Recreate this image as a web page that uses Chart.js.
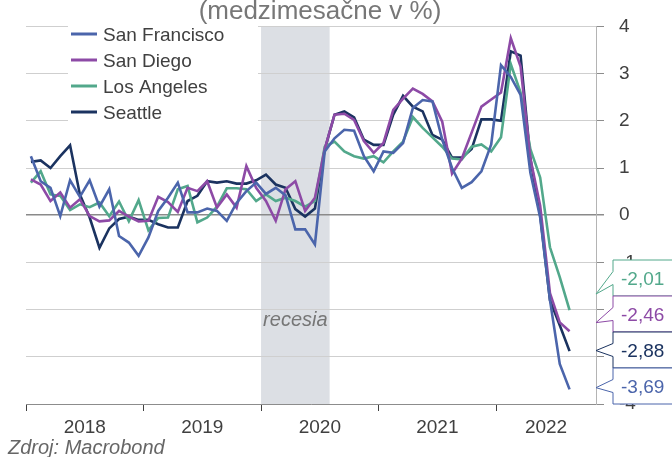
<!DOCTYPE html>
<html>
<head>
<meta charset="utf-8">
<script src="https://cdn.jsdelivr.net/npm/chart.js@4.4.1/dist/chart.umd.min.js"></script>
<style>
  html, body { margin: 0; padding: 0; background: #fff; }
  #wrap { width: 672px; height: 457px; }
</style>
</head>
<body>
<div id="wrap"><canvas id="chart" width="672" height="457"></canvas></div>
<script>
// monthly data, Jan 2018 .. Aug 2022
const firstMonth = '2018-01';
const years = [2018, 2019, 2020, 2021, 2022];
const yTicks = [4, 3, 2, 1, 0, -1, -2, -3, -4];
const recession = ['2020-01', '2020-08'];

const sanFrancisco = [1.25, 0.72, 0.58, -0.02, 0.74, 0.39, 0.74, 0.18, 0.55, -0.44, -0.58, -0.86,
  -0.47, 0.09, 0.37, 0.69, 0.06, 0.06, 0.14, 0.09, -0.12, 0.26, 0.51, 0.69,
  0.45, 0.58, 0.42, -0.30, -0.30, -0.62, 1.35, 1.63, 1.81, 1.79, 1.25, 0.93,
  1.35, 1.32, 1.53, 2.27, 2.44, 2.41, 1.60, 1.00, 0.58, 0.70, 0.93, 1.50,
  3.18, 2.93, 2.55, 0.90, -0.05, -1.80, -3.15, -3.69];
const sanDiego = [0.76, 0.65, 0.30, 0.48, 0.16, 0.34, -0.02, -0.13, -0.11, 0.09, -0.03, -0.13,
  -0.12, 0.39, 0.28, 0.07, 0.58, 0.51, 0.72, 0.16, 0.44, 0.16, 1.04, 0.58,
  0.30, -0.12, 0.55, 0.72, 0.09, 0.37, 1.40, 2.13, 2.15, 2.02, 1.57, 1.32,
  1.53, 2.23, 2.47, 2.68, 2.57, 2.41, 1.98, 0.88, 1.20, 1.75, 2.30, 2.45,
  2.60, 3.75, 3.15, 1.20, 0.20, -1.65, -2.27, -2.46];
const losAngeles = [0.69, 0.93, 0.44, 0.41, 0.11, 0.23, 0.17, 0.27, -0.02, 0.29, -0.13, 0.32,
  -0.32, -0.06, -0.05, 0.55, 0.62, -0.15, -0.05, 0.18, 0.57, 0.57, 0.55, 0.30,
  0.44, 0.30, 0.37, 0.30, 0.18, 0.30, 1.45, 1.56, 1.35, 1.25, 1.20, 1.25,
  1.12, 1.35, 1.56, 2.08, 1.85, 1.65, 1.45, 1.20, 1.18, 1.45, 1.50, 1.35,
  1.65, 3.20, 2.60, 1.40, 0.80, -0.68, -1.31, -2.01];
const seattle = [1.13, 1.16, 1.00, 1.25, 1.48, 0.44, -0.05, -0.69, -0.28, -0.08, -0.03, -0.10,
  -0.10, -0.19, -0.26, -0.26, 0.30, 0.41, 0.72, 0.69, 0.72, 0.67, 0.67, 0.74,
  0.86, 0.65, 0.58, 0.13, -0.03, 0.14, 1.39, 2.13, 2.20, 2.07, 1.60, 1.49,
  1.49, 2.13, 2.53, 2.30, 2.20, 1.70, 1.60, 1.22, 1.22, 1.40, 2.03, 2.03,
  2.00, 3.47, 3.38, 1.20, 0.00, -1.80, -2.33, -2.88];

const seriesNames = ['San Francisco', 'San Diego', 'Los Angeles', 'Seattle'];
const seriesValues = [sanFrancisco, sanDiego, losAngeles, seattle];
const seriesColors = ['#4b65ab', '#8d4aa6', '#52a88b', '#1b3360'];

const FONT = '"Liberation Sans", Arial, sans-serif';
const xMax = 58.2; // visible months on the axis

// month string -> months since Jan 2018
function monthIndex(s) {
  const [y, m] = s.split('-').map(Number);
  const [y0, m0] = firstMonth.split('-').map(Number);
  return (y - y0) * 12 + (m - m0);
}

const months = sanFrancisco.map((_, i) => {
  const [y0] = firstMonth.split('-').map(Number);
  const y = y0 + Math.floor(i / 12);
  const m = (i % 12) + 1;
  return y + '-' + String(m).padStart(2, '0');
});

// tick marks at year starts, labels in the middle of each (visible) year
const yearStarts = years.map(y => monthIndex(y + '-01'));
const yearMids = yearStarts.map(s => (s + Math.min(s + 12, xMax)) / 2);
const xTickVals = yearStarts.concat(yearMids).sort((a, b) => a - b);

const datasets = seriesNames.map((name, k) => ({
  label: name,
  data: seriesValues[k].map((v, i) => ({ x: monthIndex(months[i]) + 0.5, y: v })),
  borderColor: seriesColors[k],
  borderWidth: 2.6,
  pointRadius: 0,
  tension: 0,
  fill: false
}));

const decor = {
  id: 'decor',
  beforeDraw(chart) {
    const { ctx, chartArea: a, scales: { x } } = chart;
    ctx.save();
    ctx.fillStyle = '#fff';
    ctx.fillRect(0, 0, chart.width, chart.height);
    const x1 = x.getPixelForValue(monthIndex(recession[0]));
    const x2 = x.getPixelForValue(monthIndex(recession[1]));
    ctx.fillStyle = '#dcdfe4';
    ctx.fillRect(x1, a.top, x2 - x1, a.bottom - a.top);
    ctx.restore();
  },
  beforeDatasetsDraw(chart) {
    const { ctx, scales: { x } } = chart;
    ctx.save();
    // recession label
    const x1 = x.getPixelForValue(monthIndex(recession[0]));
    const x2 = x.getPixelForValue(monthIndex(recession[1]));
    ctx.font = 'italic 20px ' + FONT;
    ctx.fillStyle = '#767676';
    ctx.textAlign = 'center';
    ctx.fillText('recesia', (x1 + x2) / 2, 326);
    // legend
    ctx.fillStyle = '#fff';
    ctx.fillRect(68, 25, 190, 99);
    ctx.font = '19px ' + FONT;
    ctx.textAlign = 'left';
    seriesNames.forEach((name, k) => {
      const ry = 34 + k * 26;
      ctx.strokeStyle = seriesColors[k];
      ctx.lineWidth = 3;
      ctx.beginPath();
      ctx.moveTo(71, ry);
      ctx.lineTo(97, ry);
      ctx.stroke();
      ctx.fillStyle = '#404040';
      ctx.fillText(name, 103, ry + 6.5);
    });
    ctx.restore();
  },
  afterDraw(chart) {
    const { ctx, chartArea: a, scales: { y } } = chart;
    ctx.save();
    // title and source
    ctx.fillStyle = '#777';
    ctx.font = '26px ' + FONT;
    ctx.textAlign = 'center';
    ctx.fillText('(medzimesačne v %)', 320, 18.5);
    ctx.font = 'italic 20px ' + FONT;
    ctx.textAlign = 'left';
    ctx.fillStyle = '#666';
    ctx.fillText('Zdroj: Macrobond', 8, 454);

    // last-value callouts stacked up from the bottom
    const h = 36, left = 613, right = 700, tipX = a.right;
    const items = seriesValues.map((vals, k) => ({
      k, v: vals[vals.length - 1], py: y.getPixelForValue(vals[vals.length - 1])
    })).sort((p, q) => p.v - q.v);
    let limit = a.bottom;
    items.forEach(it => {
      let bottom = Math.min(it.py + h / 2, limit);
      it.top = bottom - h;
      it.bottom = bottom;
      limit = it.top;
    });
    items.reverse().forEach(it => {
      const cy = (it.top + it.bottom) / 2;
      const tipY = (cy + it.py) / 2;
      ctx.beginPath();
      ctx.moveTo(left, it.top);
      ctx.lineTo(right, it.top);
      ctx.lineTo(right, it.bottom);
      ctx.lineTo(left, it.bottom);
      ctx.lineTo(left, cy + 6.5);
      ctx.lineTo(tipX, tipY);
      ctx.lineTo(left, cy - 6.5);
      ctx.closePath();
      ctx.fillStyle = '#fff';
      ctx.fill();
      ctx.strokeStyle = seriesColors[it.k];
      ctx.lineWidth = 1;
      ctx.stroke();
      ctx.fillStyle = seriesColors[it.k];
      ctx.font = '19px ' + FONT;
      ctx.fillText(it.v.toFixed(2).replace('.', ','), 621, cy + 6.8);
    });
    ctx.restore();
  }
};

new Chart(document.getElementById('chart'), {
  type: 'line',
  data: { datasets: datasets },
  options: {
    responsive: false,
    devicePixelRatio: 1,
    animation: false,
    layout: { padding: { left: 26, top: 24, right: 0, bottom: 0 } },
    plugins: { legend: { display: false }, tooltip: { enabled: false } },
    scales: {
      x: {
        type: 'linear',
        min: 0,
        max: xMax,
        afterBuildTicks: s => { s.ticks = xTickVals.map(v => ({ value: v })); },
        afterFit: s => { s.height = 53; },
        grid: {
          drawOnChartArea: false,
          tickLength: 7,
          tickColor: ctx => yearStarts.includes(ctx.tick.value) ? '#404040' : 'rgba(0,0,0,0)'
        },
        border: { display: true, color: '#8c8c8c' },
        ticks: {
          autoSkip: false,
          maxRotation: 0,
          padding: 5,
          color: '#404040',
          font: { family: FONT, size: 19 },
          callback: v => {
            const i = yearMids.indexOf(v);
            return i >= 0 ? String(years[i]) : '';
          }
        }
      },
      y: {
        position: 'right',
        min: -4,
        max: 4,
        afterBuildTicks: s => { s.ticks = yTicks.map(v => ({ value: v })); },
        afterFit: s => { s.width = 76; },
        grid: {
          color: ctx => ctx.tick && ctx.tick.value === 0 ? '#8a8a8a' : '#cfcfcf',
          lineWidth: ctx => ctx.tick && ctx.tick.value === 0 ? 1.5 : 1,
          tickLength: 8,
          tickColor: '#8c8c8c'
        },
        border: { display: true, color: '#b4b4b4' },
        ticks: {
          padding: 15,
          color: '#404040',
          font: { family: FONT, size: 19 },
          callback: v => String(v)
        }
      }
    }
  },
  plugins: [decor]
});
</script>
</body>
</html>
